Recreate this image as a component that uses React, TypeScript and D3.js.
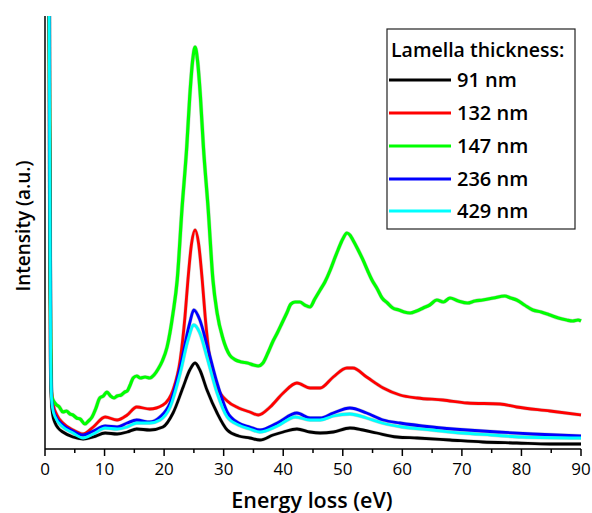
import React from "react";
import * as d3 from "d3";

const xTicks = [0, 10, 20, 30, 40, 50, 60, 70, 80, 90];
const xMinorTicks = [5, 15, 25, 35, 45, 55, 65, 75, 85];
const seriesNames = ["91 nm", "132 nm", "147 nm", "236 nm", "429 nm"];
const seriesColors = ["#000000", "#ff0000", "#00ff00", "#0000ff", "#00ffff"];

const lead: [number, number][] = [[0, 2000], [0.5, 900], [0.7, 450], [0.85, 200]];

const s91: [number, number][] = [
  ...lead, [0.95, 90], [1.1, 45], [1.3, 34], [1.7, 26], [2.2, 21], [3.0, 17], [4.7, 12], [6.4, 10], [8.1, 12], [10.1, 16],
  [12.1, 15], [13.8, 17], [15.4, 20], [17.6, 19], [19.8, 22], [21.5, 36], [23.2, 62], [24.3, 79], [25.2, 86],
  [26, 79], [27.2, 59], [28.9, 36], [30.6, 19], [32.5, 13], [34.4, 11], [36.1, 9], [38.3, 14], [40, 17],
  [42.3, 20], [44.5, 17], [46.2, 16], [48.4, 17], [51.2, 21], [53.4, 19], [55.7, 16], [59.1, 12], [62.5, 11],
  [68, 9], [73.5, 7], [79.2, 6], [84.8, 5], [90, 5],
];

const s132: [number, number][] = [
  ...lead, [0.95, 100], [1.1, 58], [1.4, 44], [2, 34], [3, 26], [4.7, 19], [6.4, 15], [8.1, 22], [10.1, 32],
  [12.1, 29], [13.8, 34], [15.4, 42], [17.6, 40], [19.8, 44], [21.5, 59], [22.7, 89], [23.5, 132], [24, 169],
  [24.6, 205], [25.2, 219], [25.8, 205], [26.4, 169], [26.9, 132], [27.7, 89], [28.9, 62], [30.6, 48],
  [32.5, 41], [34.4, 37], [35.8, 34], [37.8, 42], [40, 56], [42.3, 66], [44.5, 61], [46.2, 61], [48.4, 72],
  [50.7, 81], [51.7, 81], [54, 72], [56.8, 61], [59.6, 54], [62.5, 51], [66.8, 49], [70.9, 46], [76.4, 45],
  [79.2, 42], [84.8, 38], [90, 34],
];

const s147: [number, number][] = [
  ...lead, [0.95, 110], [1.15, 52], [1.8, 45], [2.4, 42], [3.0, 37], [3.6, 38], [4.2, 35], [4.7, 34], [5.3, 31],
  [5.9, 30], [6.7, 25], [7.3, 28], [7.9, 32], [8.5, 40], [9.2, 51], [9.8, 53], [10.4, 57], [11, 53], [11.6, 51],
  [12.1, 53], [12.8, 54], [13.4, 57], [13.8, 58], [14.3, 64], [14.8, 71], [15.4, 73], [16, 71], [16.8, 72],
  [17.6, 71], [18.3, 74], [19, 80], [19.7, 88], [20.5, 102], [21.5, 136], [22.2, 169], [23, 240], [23.8, 302],
  [24.3, 352], [24.8, 389], [25.2, 402], [25.6, 389], [26.1, 352], [26.6, 302], [27.4, 240], [28.2, 169],
  [28.9, 136], [29.9, 110], [31, 94], [32, 89], [33, 87], [34, 86], [35, 84], [35.8, 83], [36.6, 86],
  [37.5, 97], [38.3, 108], [39, 116], [39.8, 126], [40.6, 136], [41.3, 145], [42, 147], [42.8, 147],
  [43.6, 144], [44.5, 142], [45.3, 150], [46.2, 159], [47, 167], [47.9, 179], [48.6, 190], [49.2, 199],
  [50, 210], [50.7, 216], [51.2, 214], [51.7, 209], [52.5, 200], [53.4, 189], [54.2, 178], [54.9, 169],
  [55.8, 160], [56.6, 151], [57.5, 146], [58.4, 141], [59.4, 139], [60.3, 137], [61.3, 136], [62.4, 138],
  [63.5, 141], [64.6, 144], [65.8, 149], [66.9, 147], [68, 151], [69.4, 148], [70.9, 146], [72.2, 148],
  [73.5, 149], [75.3, 151], [77.2, 153], [78.2, 151], [79.2, 149], [80.5, 144], [81.9, 139], [83.3, 137],
  [84.8, 134], [86.2, 131], [87.6, 129], [88.6, 128], [89.5, 129], [90, 128],
];

const s236: [number, number][] = [
  ...lead, [0.95, 95], [1.1, 52], [1.3, 42], [1.7, 34], [3, 24], [4.7, 18], [6.4, 14], [8.1, 18], [10.1, 23],
  [12.1, 22], [13.8, 26], [15.4, 29], [17.6, 27], [19.3, 32], [21, 46], [22.7, 82], [24.3, 126], [25, 139],
  [26, 129], [27.2, 104], [28.9, 66], [30.6, 37], [32.5, 26], [34.4, 22], [36.1, 19], [39, 26], [42.3, 36],
  [44.5, 31], [46.2, 31], [48.4, 36], [51.2, 41], [54, 36], [56.8, 29], [59.6, 26], [65, 22], [70.9, 19],
  [76, 17], [81.9, 15], [90, 13],
];

const s429: [number, number][] = [
  ...lead, [0.95, 92], [1.1, 50], [1.3, 40], [1.7, 32], [3, 22], [4.7, 16], [6.4, 11], [8.1, 15], [10.1, 21],
  [12.1, 20], [13.8, 22], [15.4, 26], [17.6, 26], [19.3, 29], [21, 42], [22.7, 76], [24, 109], [25, 124],
  [26, 116], [27.2, 92], [28.9, 56], [30.6, 32], [32.5, 24], [34.4, 20], [36.1, 17], [39, 23], [42, 32],
  [44.5, 29], [46.2, 29], [48.4, 33], [51.2, 35], [54, 31], [56.6, 26], [60, 22], [65, 19], [70, 16],
  [75, 14], [80, 12], [90, 11],
];

const allSeries = [s91, s132, s147, s236, s429];

const FONT = "'Open Sans', 'Noto Sans', sans-serif";

export default function App() {
  const W = 592, H = 513;
  const left = 45, right = 581, top = 16, bottom = 449;
  const x = d3.scaleLinear().domain([0, 90]).range([left, right]);
  const y = d3.scaleLinear().domain([0, 433]).range([bottom, top]);
  const line = d3
    .line<[number, number]>()
    .x((d) => x(d[0]))
    .y((d) => y(d[1]))
    .curve(d3.curveMonotoneX);

  const legendX = 387, legendY = 29;
  const legendRows = [80, 113, 146, 179, 211];

  return (
    <svg width={W} height={H} style={{ position: "absolute", left: 0, top: 0, background: "#fff" }}>
      <defs>
        <clipPath id="plotclip">
          <rect x={left} y={top} width={right - left + 2} height={bottom - top} />
        </clipPath>
      </defs>
      <g clipPath="url(#plotclip)">
        {allSeries.map((s, i) => (
          <path key={"h" + i} d={line(s) || ""} fill="none" stroke="rgba(0,0,0,0.18)" strokeWidth={i === 2 ? 4.2 : 3.8} strokeLinejoin="round" />
        ))}
        {allSeries.map((s, i) => (
          <path key={i} d={line(s) || ""} fill="none" stroke={seriesColors[i]} strokeWidth={i === 2 ? 3.2 : 2.8} strokeLinejoin="round" />
        ))}
      </g>
      {/* axes */}
      <line x1={left} x2={left} y1={top} y2={bottom} stroke="#000" strokeWidth={1.5} />
      <line x1={left} x2={right} y1={bottom} y2={bottom} stroke="#000" strokeWidth={1.5} />
      {xTicks.map((t) => (
        <g key={t}>
          <line x1={x(t)} x2={x(t)} y1={bottom} y2={bottom + 7} stroke="#000" strokeWidth={1.5} />
          <text x={x(t)} y={475} textAnchor="middle" fontFamily={FONT} fontSize={17} fill="#000">
            {t}
          </text>
        </g>
      ))}
      {xMinorTicks.map((t) => (
        <line key={"m" + t} x1={x(t)} x2={x(t)} y1={bottom} y2={bottom + 4} stroke="#000" strokeWidth={1.5} />
      ))}
      <text x={312} y={508} textAnchor="middle" fontFamily={FONT} fontSize={21.5} fontWeight={600} fill="#000">
        Energy loss (eV)
      </text>
      <text
        transform={`translate(30, 226) rotate(-90)`}
        textAnchor="middle"
        fontFamily={FONT}
        fontSize={19}
        fontWeight={600}
        fill="#000"
      >
        Intensity (a.u.)
      </text>
      {/* legend */}
      <rect x={legendX} y={legendY} width={188} height={200} fill="#fff" stroke="#222" strokeWidth={1.2} />
      <text x={391} y={57} fontFamily={FONT} fontSize={19.5} fontWeight={600} fill="#000">
        Lamella thickness:
      </text>
      {seriesNames.map((n, i) => (
        <g key={n}>
          <line x1={389} x2={451} y1={legendRows[i]} y2={legendRows[i]} stroke={seriesColors[i]} strokeWidth={3} />
          <text x={457} y={legendRows[i] + 7} fontFamily={FONT} fontSize={20} fontWeight={600} fill="#000">
            {n}
          </text>
        </g>
      ))}
    </svg>
  );
}
